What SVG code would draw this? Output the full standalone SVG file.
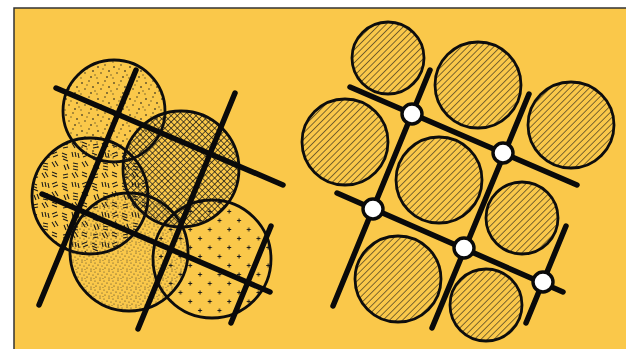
<svg xmlns="http://www.w3.org/2000/svg" width="626" height="349" viewBox="0 0 626 349">
<style>
.circ{stroke:#0d0d0d;stroke-width:2.8}
.bar{stroke:#0a0a0a;stroke-width:5.5;stroke-linecap:round;fill:none}
.node{fill:#fff;stroke:#0a0a0a;stroke-width:3.4}
.pl{stroke:#1a1a1a;stroke-width:1.1}
</style>
<defs>
<pattern id="dots" width="16" height="16" patternUnits="userSpaceOnUse">
<g fill="#1a1a1a"><rect x="1.3" y="2.3" width="1.4" height="1.4"/><rect x="8.4" y="0.4" width="1.2" height="1.2"/><rect x="12.3" y="6.3" width="1.4" height="1.4"/><rect x="4.4" y="8.4" width="1.2" height="1.2"/><rect x="10.3" y="12.3" width="1.4" height="1.4"/><rect x="0.5" y="13.5" width="1" height="1"/><rect x="6.5" y="4.5" width="1" height="1"/><rect x="14.5" y="10.5" width="1" height="1"/></g>
</pattern>
<pattern id="stip" width="9" height="9" patternUnits="userSpaceOnUse">
<g fill="#222"><circle cx="1" cy="1" r="0.55"/><circle cx="5" cy="2" r="0.5"/><circle cx="8" cy="4" r="0.55"/><circle cx="3" cy="5" r="0.5"/><circle cx="6" cy="7" r="0.55"/><circle cx="1" cy="8" r="0.5"/><circle cx="4" cy="8.5" r="0.45"/></g>
</pattern>
<pattern id="cross" width="4.4" height="4.4" patternUnits="userSpaceOnUse" patternTransform="rotate(45)">
<path d="M0 0V4.4M0 0H4.4" stroke="#151515" stroke-width="1.4"/>
</pattern>
<pattern id="plus" width="19.5" height="18" patternUnits="userSpaceOnUse">
<path class="pl" d="M3 4.5h4M5 2.5v4M12.75 13.5h4M14.75 11.5v4"/>
</pattern>
<pattern id="dash" width="30" height="30" patternUnits="userSpaceOnUse">
<path stroke="#1a1a1a" stroke-width="1.1" d="M2 3L7 5M2 6L7 8M3 9L8 11M12 2L13 7M15 2L16 7M18 3L19 8M22 4L27 2M23 7L28 5M4 15L6 20M7 14L9 19M13 13L18 14M13 16L18 17M13 19L18 20M22 12L25 17M25 11L28 16M3 25L8 24M3 28L8 27M12 23L15 28M15 22L18 27M22 22L27 24M22 25L27 27"/>
</pattern>
<pattern id="hatch" width="4.6" height="4.6" patternUnits="userSpaceOnUse" patternTransform="rotate(45)">
<path d="M0 0V4.6" stroke="#151515" stroke-width="1.1"/>
</pattern>
</defs>
<rect x="14" y="8" width="620" height="350" fill="#FAC84A" stroke="#333" stroke-width="1.5"/>
<g id="left-panel">
<g id="circle-dots"><circle class="circ" cx="114" cy="111" r="51" fill="url(#dots)"/></g>
<g id="circle-cross"><circle class="circ" cx="181" cy="169" r="58" fill="url(#cross)"/></g>
<g id="circle-dash"><circle class="circ" cx="90" cy="196" r="58" fill="url(#dash)"/></g>
<g id="circle-stipple"><circle class="circ" cx="129" cy="252" r="59" fill="url(#stip)"/></g>
<g id="circle-plus"><circle class="circ" cx="212" cy="259" r="59" fill="url(#plus)"/></g>
<g id="left-lines">
<line class="bar" x1="56" y1="88" x2="283" y2="185"/>
<line class="bar" x1="42" y1="194" x2="270" y2="292"/>
<line class="bar" x1="136" y1="70" x2="39" y2="305"/>
<line class="bar" x1="235" y1="93" x2="138" y2="329"/>
<line class="bar" x1="271" y1="226" x2="231" y2="323"/>
</g>
</g>
<g id="right-panel">
<g id="r-c1"><circle class="circ" cx="388" cy="58" r="36" fill="url(#hatch)"/></g>
<g id="r-c2"><circle class="circ" cx="478" cy="85" r="43" fill="url(#hatch)"/></g>
<g id="r-c3"><circle class="circ" cx="571" cy="125" r="43" fill="url(#hatch)"/></g>
<g id="r-c4"><circle class="circ" cx="345" cy="142" r="43" fill="url(#hatch)"/></g>
<g id="r-c5"><circle class="circ" cx="439" cy="180" r="43" fill="url(#hatch)"/></g>
<g id="r-c6"><circle class="circ" cx="522" cy="218" r="36" fill="url(#hatch)"/></g>
<g id="r-c7"><circle class="circ" cx="398" cy="279" r="43" fill="url(#hatch)"/></g>
<g id="r-c8"><circle class="circ" cx="486" cy="305" r="36" fill="url(#hatch)"/></g>
<g id="right-lines">
<line class="bar" x1="350" y1="87" x2="577" y2="185"/>
<line class="bar" x1="337" y1="193" x2="563" y2="292"/>
<line class="bar" x1="430" y1="70" x2="333" y2="306"/>
<line class="bar" x1="529" y1="94" x2="432" y2="328"/>
<line class="bar" x1="566" y1="226" x2="526" y2="323"/>
</g>
<g id="n1"><circle class="node" cx="412" cy="114" r="10"/></g>
<g id="n2"><circle class="node" cx="503" cy="153" r="10"/></g>
<g id="n3"><circle class="node" cx="373" cy="209" r="10"/></g>
<g id="n4"><circle class="node" cx="464" cy="248" r="10"/></g>
<g id="n5"><circle class="node" cx="543" cy="282" r="10"/></g>
</g>
</svg>
